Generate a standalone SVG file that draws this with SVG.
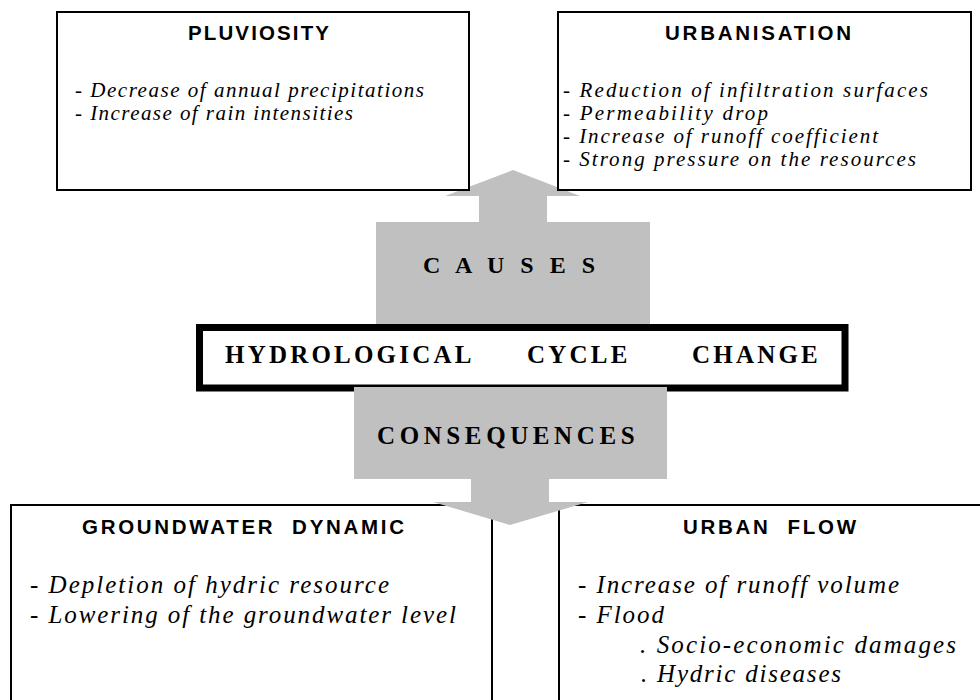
<svg xmlns="http://www.w3.org/2000/svg" width="980" height="700" viewBox="0 0 980 700">
  <style>
    .box { fill: #ffffff; stroke: #000000; stroke-width: 2; }
    .core { fill: #ffffff; stroke: #000000; stroke-width: 7; }
    .flow { fill: #c0c0c0; stroke: none; }
    .head { font-family: "Liberation Sans", Arial, sans-serif; font-weight: 700; font-size: 20.5px; fill: #000; }
    .item { font-family: "Liberation Serif", "Times New Roman", serif; font-style: italic; font-size: 21px; fill: #000; }
    .item-lg { font-family: "Liberation Serif", "Times New Roman", serif; font-style: italic; font-size: 25px; fill: #000; }
    .title { font-family: "Liberation Serif", "Times New Roman", serif; font-weight: 700; font-size: 25px; letter-spacing: 3.2px; fill: #000; }
    .label { font-family: "Liberation Serif", "Times New Roman", serif; font-weight: 700; fill: #000; }
  </style>

  <!-- lower boxes: consequences -->
  <g id="groundwater-dynamic">
    <rect class="box" x="11" y="505" width="481" height="220"/>
    <text class="head" x="82" y="534" xml:space="preserve" textLength="322" lengthAdjust="spacing">GROUNDWATER  DYNAMIC</text>
    <text class="item-lg" x="30" y="593" textLength="359" lengthAdjust="spacing">- Depletion of hydric resource</text>
    <text class="item-lg" x="30" y="623" textLength="426" lengthAdjust="spacing">- Lowering of the groundwater level</text>
  </g>

  <g id="urban-flow">
    <rect class="box" x="559" y="505" width="440" height="220"/>
    <text class="head" x="683" y="534" xml:space="preserve" textLength="173" lengthAdjust="spacing">URBAN  FLOW</text>
    <text class="item-lg" x="578" y="593" textLength="321" lengthAdjust="spacing">- Increase of runoff volume</text>
    <text class="item-lg" x="578" y="623" textLength="86" lengthAdjust="spacing">- Flood</text>
    <text class="item-lg" x="640" y="653" textLength="316" lengthAdjust="spacing">. Socio-economic damages</text>
    <text class="item-lg" x="641" y="682" textLength="200" lengthAdjust="spacing">. Hydric diseases</text>
  </g>

  <!-- central box -->
  <g id="hydrological-cycle-change">
    <rect class="core" x="199.5" y="327.5" width="645.5" height="60.5"/>
    <text class="title" y="363"><tspan x="225">HYDROLOGICAL</tspan><tspan x="527">CYCLE</tspan><tspan x="692">CHANGE</tspan></text>
  </g>

  <!-- block arrows -->
  <g id="connectors">
    <g id="causes">
      <polygon class="flow" points="513,170 580,196 547,196 547,222 650,222 650,324 376,324 376,222 479,222 479,196 445,196"/>
      <text class="label" x="423" y="273" font-size="24" letter-spacing="5">C A U S E S</text>
    </g>
    <g id="consequences">
      <polygon class="flow" points="354,387 667,387 667,479 549,479 549,502 588,502 510,525 433,502 471,502 471,479 354,479"/>
      <text class="label" x="377" y="444" font-size="25" letter-spacing="4.6">CONSEQUENCES</text>
    </g>
  </g>

  <!-- upper boxes: causes -->
  <g id="pluviosity">
    <rect class="box" x="57" y="12" width="412" height="178"/>
    <text class="head" x="188" y="40" textLength="141" lengthAdjust="spacing">PLUVIOSITY</text>
    <text class="item" x="75" y="97" textLength="349" lengthAdjust="spacing">- Decrease of annual precipitations</text>
    <text class="item" x="75" y="120" textLength="278" lengthAdjust="spacing">- Increase of rain intensities</text>
  </g>

  <g id="urbanisation">
    <rect class="box" x="558" y="12" width="413" height="178"/>
    <text class="head" x="665" y="40" textLength="186" lengthAdjust="spacing">URBANISATION</text>
    <text class="item" x="563" y="97" textLength="365" lengthAdjust="spacing">- Reduction of infiltration surfaces</text>
    <text class="item" x="563" y="120" textLength="205" lengthAdjust="spacing">- Permeability drop</text>
    <text class="item" x="563" y="143" textLength="315" lengthAdjust="spacing">- Increase of runoff coefficient</text>
    <text class="item" x="563" y="166" textLength="353" lengthAdjust="spacing">- Strong pressure on the resources</text>
  </g>
</svg>
